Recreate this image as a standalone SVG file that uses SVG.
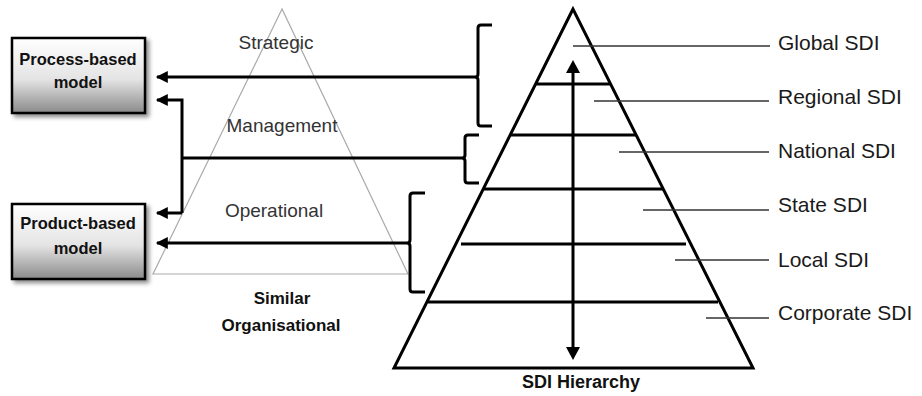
<svg xmlns="http://www.w3.org/2000/svg" width="922" height="396" viewBox="0 0 922 396">
<style>
.thick{stroke:#000;stroke-width:3;fill:none}
.thin{stroke:#333;stroke-width:1.3;fill:none}
.lbl{font-family:"Liberation Sans",Arial,sans-serif;font-size:21px;fill:#1a1a1a}
.lvl{font-family:"Liberation Sans",Arial,sans-serif;font-size:19px;fill:#333}
.bold{font-family:"Liberation Sans",Arial,sans-serif;font-weight:bold;fill:#111;text-anchor:middle}
.box{fill:url(#g);stroke:#000;stroke-width:2.5;filter:url(#sh)}
</style>
<defs>
<linearGradient id="g" x1="0" y1="0" x2="0" y2="1">
<stop offset="0" stop-color="#ffffff"/>
<stop offset="0.55" stop-color="#e4e4e4"/>
<stop offset="1" stop-color="#8a8a8a"/>
</linearGradient>
<filter id="sh" x="-20%" y="-20%" width="150%" height="150%">
<feDropShadow dx="3" dy="3" stdDeviation="2" flood-color="#000" flood-opacity="0.45"/>
</filter>
<marker id="ah" viewBox="0 0 10 10" refX="9" refY="5" markerWidth="4.3" markerHeight="4" orient="auto" markerUnits="strokeWidth">
<path d="M0,0 L10,5 L0,10 z" fill="#000"/>
</marker>
</defs>

<g id="org-pyramid">
<polygon points="282,9 153,274 408,274" fill="none" stroke="#aaa" stroke-width="1.2"/>
<text class="lvl" x="276" y="49" text-anchor="middle">Strategic</text>
<text class="lvl" x="282" y="132" text-anchor="middle">Management</text>
<text class="lvl" x="274" y="217" text-anchor="middle">Operational</text>
<text class="bold" x="282" y="304" font-size="17">Similar</text>
<text class="bold" x="281" y="331" font-size="17">Organisational</text>
</g>

<g id="process-model">
<rect class="box" x="12" y="38" width="133" height="75"/>
<text class="bold" x="78" y="65" font-size="16.5">Process-based</text>
<text class="bold" x="78" y="88" font-size="16.5">model</text>
</g>

<g id="product-model">
<rect class="box" x="12" y="204" width="133" height="75"/>
<text class="bold" x="78" y="229" font-size="16.5">Product-based</text>
<text class="bold" x="78" y="254" font-size="16.5">model</text>
</g>

<g id="sdi-pyramid">
<polygon points="573,9 394,368 753,368" fill="none" stroke="#000" stroke-width="3" stroke-linejoin="miter"/>
<line class="thick" x1="536" y1="84" x2="610" y2="84"/>
<line class="thick" x1="511" y1="135" x2="636" y2="135"/>
<line class="thick" x1="484" y1="189" x2="663" y2="189"/>
<line class="thick" x1="461" y1="244" x2="686" y2="244"/>
<line class="thick" x1="428" y1="302" x2="718" y2="302"/>
<text class="bold" x="581" y="388" font-size="18">SDI Hierarchy</text>
</g>

<g id="sdi-labels">
<line class="thin" x1="573" y1="46" x2="770" y2="46"/>
<line class="thin" x1="594" y1="101" x2="769" y2="101"/>
<line class="thin" x1="619" y1="152" x2="769" y2="152"/>
<line class="thin" x1="643" y1="210" x2="769" y2="210"/>
<line class="thin" x1="675" y1="260" x2="769" y2="260"/>
<line class="thin" x1="706" y1="318" x2="769" y2="318"/>
<text class="lbl" x="778" y="50">Global SDI</text>
<text class="lbl" x="778" y="104">Regional SDI</text>
<text class="lbl" x="778" y="158">National SDI</text>
<text class="lbl" x="778" y="212">State SDI</text>
<text class="lbl" x="778" y="267">Local SDI</text>
<text class="lbl" x="778" y="320">Corporate SDI</text>
</g>

<g id="connectors">
<path class="thick" d="M573,350 L573,70"/>
<path d="M566,73 L573,60 L580,73 z" fill="#000"/>
<path d="M566,347 L573,360 L580,347 z" fill="#000"/>
<path class="thick" d="M492,25 L481,25 Q478,25 478,28 L478,74 Q478,77 475,77 Q478,77 478,80 L478,123 Q478,126 481,126 L492,126"/>
<path class="thick" d="M479,135 L468,135 Q465,135 465,138 L465,155 Q465,158 462,158 Q465,158 465,161 L465,180 Q465,183 468,183 L479,183"/>
<path class="thick" d="M425,193 L413,193 Q410,193 410,196 L410,240 Q410,243 407,243 Q410,243 410,246 L410,289 Q410,292 413,292 L425,292"/>
<line class="thick" x1="475" y1="77" x2="157" y2="77" marker-end="url(#ah)"/>
<line class="thick" x1="462" y1="158" x2="182" y2="158"/>
<path class="thick" d="M182,213 L182,100 L157,100" marker-end="url(#ah)"/>
<line class="thick" x1="182" y1="213" x2="157" y2="213" marker-end="url(#ah)"/>
<line class="thick" x1="407" y1="243" x2="157" y2="243" marker-end="url(#ah)"/>
</g>
</svg>
